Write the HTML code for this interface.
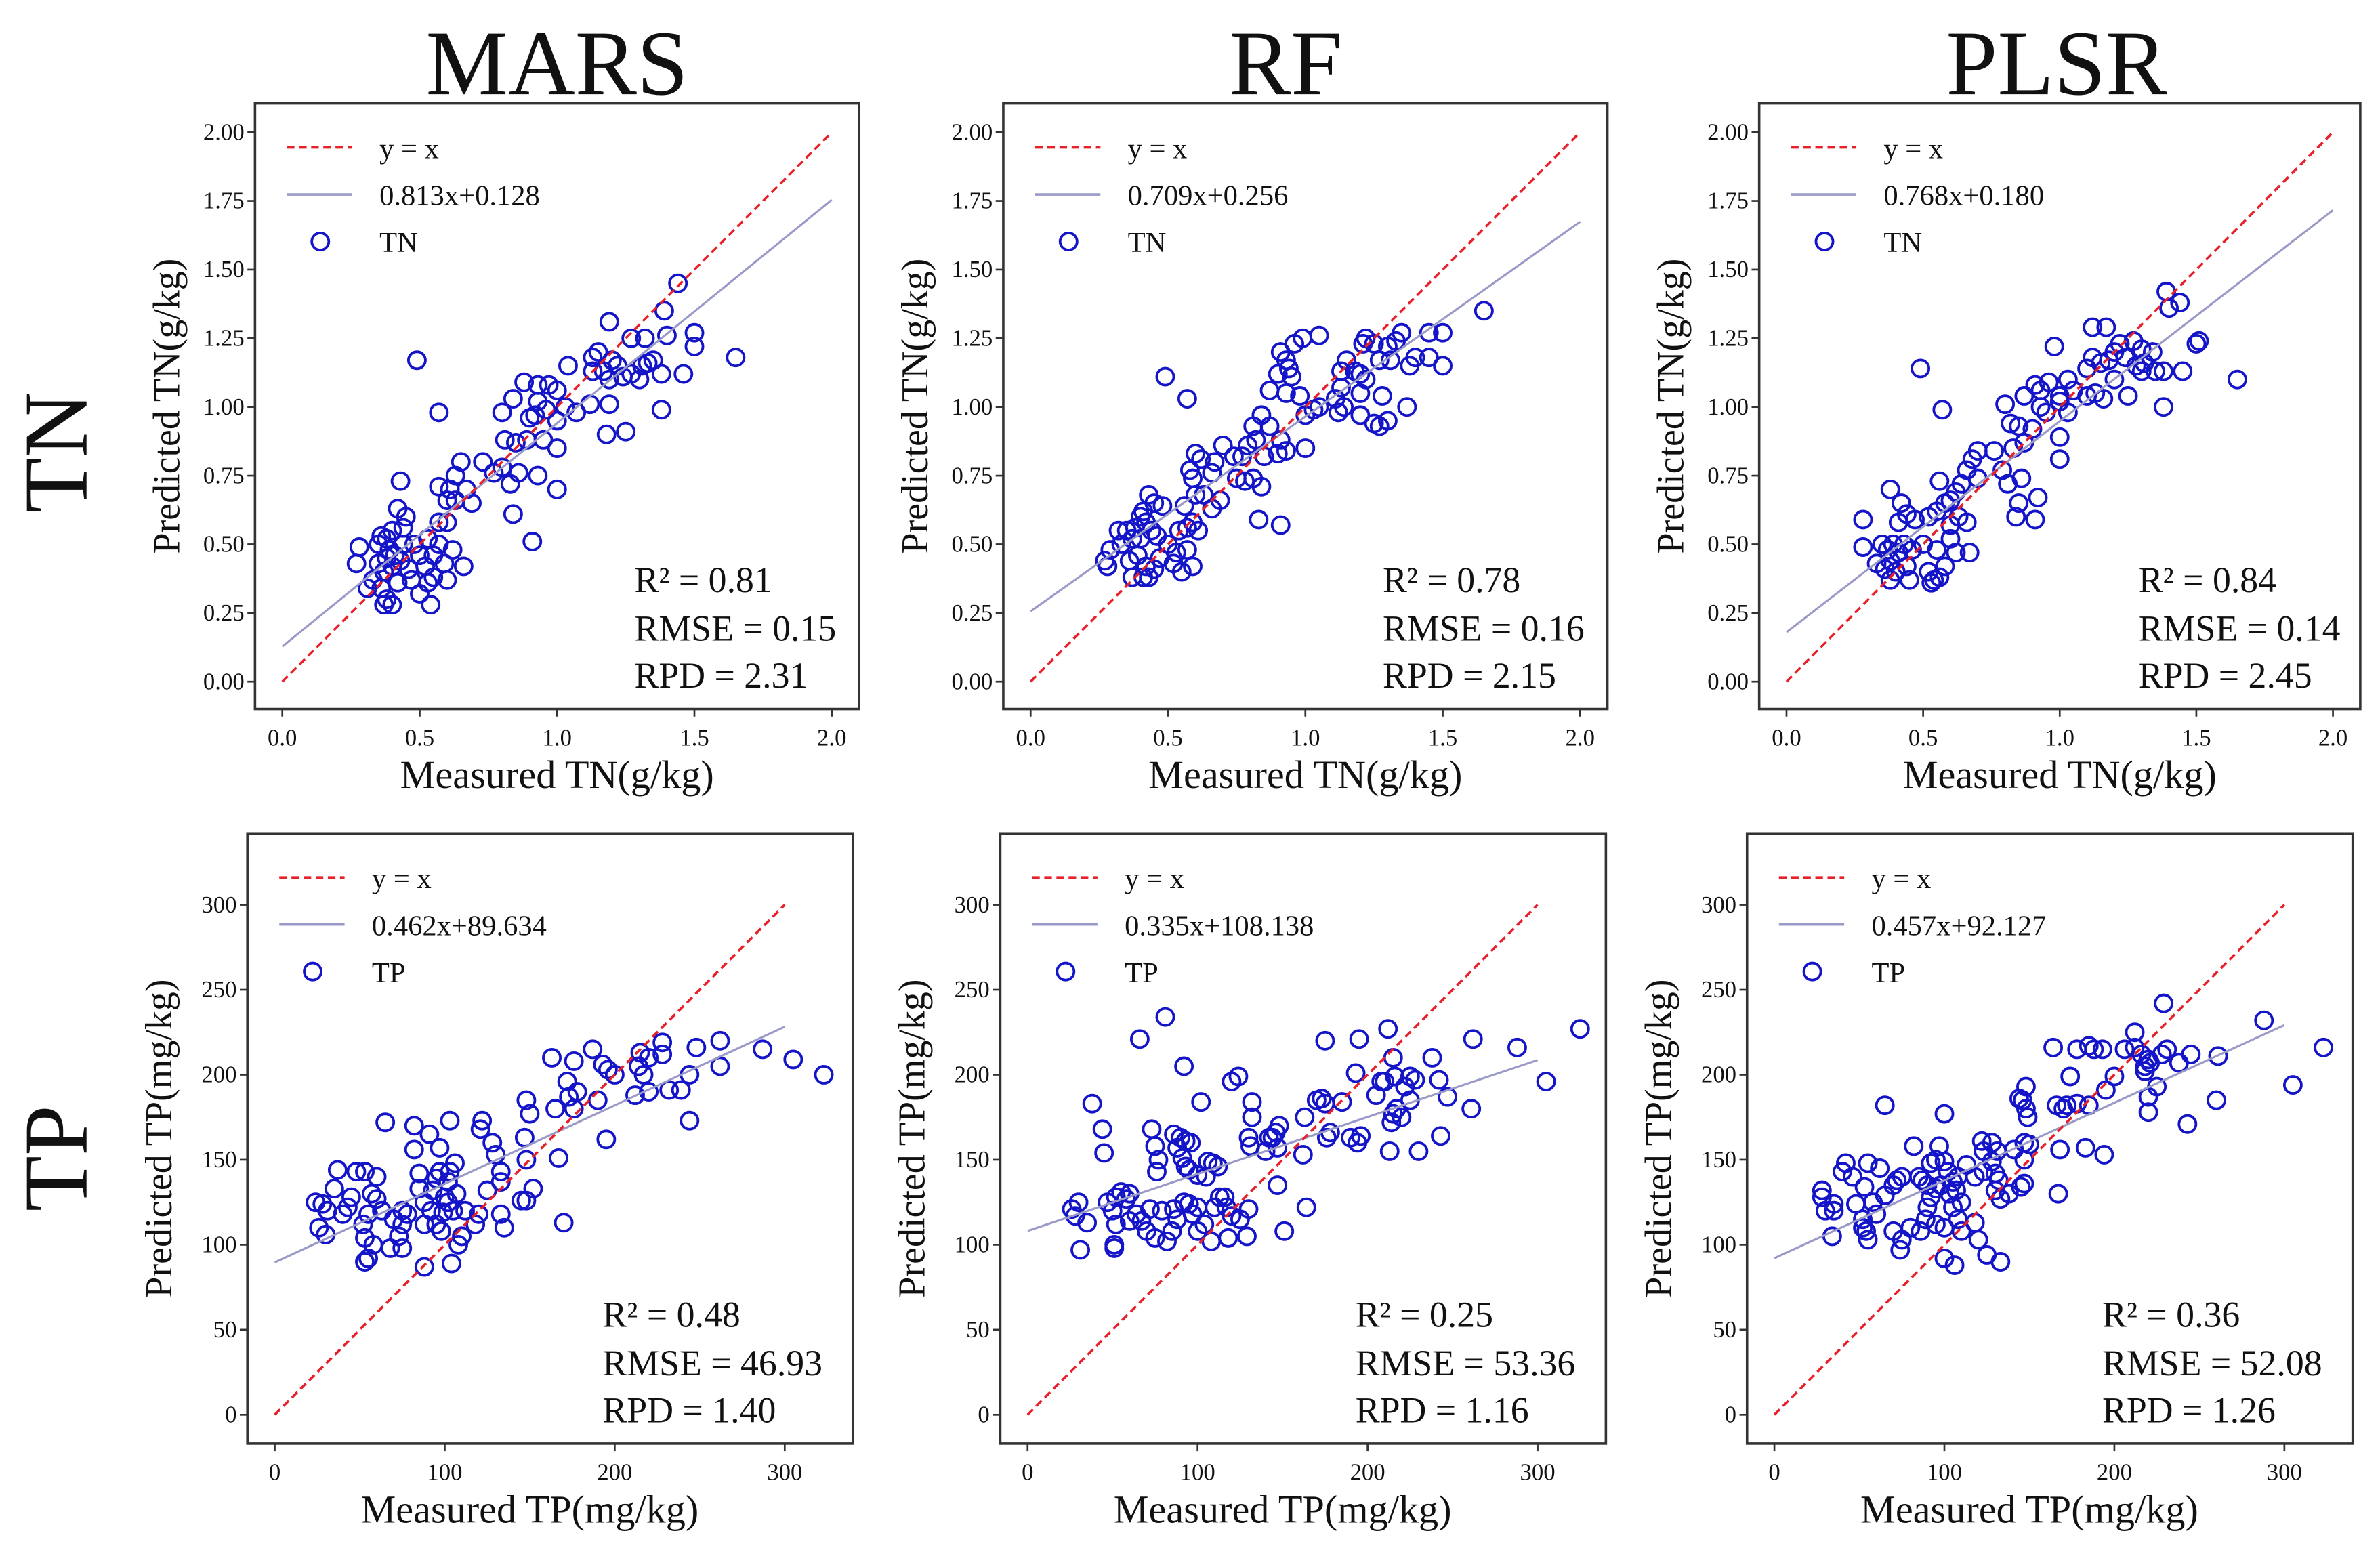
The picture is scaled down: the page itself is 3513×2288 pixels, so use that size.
<!DOCTYPE html>
<html><head><meta charset="utf-8"><style>
html,body{margin:0;padding:0;background:#fff}
svg{display:block}
text{font-family:"Liberation Serif",serif;fill:#111}
</style></head><body>
<svg id="chart" xmlns="http://www.w3.org/2000/svg" width="3513" height="2288" viewBox="0 0 1568 1021">
<text x="367" y="62" font-size="61" text-anchor="middle">MARS</text>
<text x="847" y="62" font-size="61" text-anchor="middle">RF</text>
<text x="1355" y="62" font-size="61" text-anchor="middle">PLSR</text>
<text transform="translate(57,298) rotate(-90)" font-size="60" text-anchor="middle">TN</text>
<text transform="translate(57,763) rotate(-90)" font-size="60" text-anchor="middle">TP</text>
</svg>
<script>
// ---- data ----
const tnTicks = [0, 0.25, 0.5, 0.75, 1.0, 1.25, 1.5, 1.75, 2.0];
const tnTickLabels = ["0.00","0.25","0.50","0.75","1.00","1.25","1.50","1.75","2.00"];
const tnXTicks = [0, 0.5, 1.0, 1.5, 2.0];
const tnXTickLabels = ["0.0","0.5","1.0","1.5","2.0"];
const tpTicks = [0, 50, 100, 150, 200, 250, 300];
const tpTickLabels = ["0","50","100","150","200","250","300"];
const tpXTicks = [0, 100, 200, 300];
const tpXTickLabels = ["0","100","200","300"];

const marsTN = [[1.44,1.45],[1.39,1.35],[1.19,1.31],[1.27,1.25],[1.32,1.25],[1.4,1.26],[1.5,1.27],[1.5,1.22],[1.65,1.18],[1.46,1.12],[1.38,1.12],[1.38,0.99],[1.25,0.91],[1.18,0.9],[1.19,1.01],[1.12,1.01],[1.15,1.2],[1.13,1.18],[1.2,1.17],[1.22,1.15],[1.17,1.13],[1.13,1.13],[1.24,1.11],[1.27,1.12],[1.3,1.1],[1.33,1.16],[1.35,1.17],[1.31,1.15],[1.19,1.1],[1.04,1.15],[1.07,0.98],[1.03,1.0],[1.0,1.06],[0.97,1.08],[0.93,1.08],[0.88,1.09],[0.93,1.02],[0.96,0.99],[0.92,0.97],[0.9,0.96],[0.95,0.88],[0.89,0.88],[0.85,0.87],[0.81,0.88],[0.8,0.98],[0.84,1.03],[1.0,0.95],[1.0,0.85],[0.93,0.75],[1.0,0.7],[0.86,0.76],[0.83,0.72],[0.84,0.61],[0.91,0.51],[0.77,0.76],[0.73,0.8],[0.8,0.78],[0.65,0.8],[0.63,0.75],[0.69,0.65],[0.67,0.7],[0.61,0.7],[0.6,0.66],[0.57,0.71],[0.6,0.58],[0.57,0.58],[0.63,0.66],[0.57,0.98],[0.49,1.17],[0.43,0.73],[0.42,0.63],[0.45,0.6],[0.44,0.56],[0.4,0.55],[0.38,0.52],[0.36,0.53],[0.39,0.48],[0.41,0.46],[0.43,0.44],[0.38,0.45],[0.35,0.43],[0.37,0.4],[0.4,0.42],[0.33,0.37],[0.36,0.34],[0.38,0.3],[0.4,0.28],[0.37,0.28],[0.42,0.36],[0.47,0.37],[0.5,0.32],[0.54,0.28],[0.53,0.36],[0.55,0.38],[0.6,0.37],[0.59,0.43],[0.62,0.48],[0.66,0.42],[0.55,0.46],[0.5,0.46],[0.53,0.52],[0.48,0.5],[0.28,0.49],[0.27,0.43],[0.31,0.34],[0.46,0.41],[0.44,0.5],[0.57,0.5],[0.52,0.42],[0.35,0.5]];
const rfTN = [[1.65,1.35],[1.5,1.27],[1.45,1.27],[1.35,1.27],[1.33,1.24],[1.5,1.15],[1.45,1.18],[1.4,1.18],[1.38,1.15],[1.37,1.0],[1.3,1.22],[1.31,1.17],[1.27,1.17],[1.25,1.23],[1.22,1.25],[1.21,1.23],[1.2,1.12],[1.15,1.17],[1.13,1.13],[1.18,1.13],[1.22,1.1],[1.2,1.05],[1.13,1.07],[1.11,1.03],[1.14,1.0],[1.12,0.98],[1.2,0.97],[1.28,1.04],[1.25,0.94],[1.3,0.95],[1.27,0.93],[1.05,1.26],[0.99,1.25],[0.96,1.23],[0.91,1.2],[0.93,1.17],[0.94,1.14],[0.95,1.11],[0.9,1.12],[0.87,1.06],[0.93,1.05],[0.98,1.04],[1.05,1.0],[1.03,0.99],[1.0,0.97],[0.87,0.93],[0.84,0.97],[0.81,0.93],[0.82,0.88],[0.79,0.86],[0.85,0.82],[0.9,0.83],[0.93,0.84],[0.91,0.88],[0.77,0.82],[1.0,0.85],[0.75,0.74],[0.78,0.73],[0.81,0.74],[0.84,0.71],[0.83,0.59],[0.91,0.57],[0.7,0.86],[0.74,0.82],[0.67,0.8],[0.62,0.81],[0.6,0.83],[0.59,0.74],[0.58,0.77],[0.63,0.68],[0.66,0.76],[0.69,0.66],[0.66,0.63],[0.6,0.68],[0.56,0.64],[0.59,0.58],[0.61,0.55],[0.57,0.56],[0.49,1.11],[0.57,1.03],[0.43,0.68],[0.45,0.65],[0.48,0.64],[0.41,0.62],[0.4,0.6],[0.42,0.58],[0.38,0.56],[0.44,0.55],[0.46,0.53],[0.35,0.55],[0.32,0.55],[0.37,0.52],[0.4,0.52],[0.33,0.5],[0.29,0.48],[0.28,0.42],[0.27,0.44],[0.36,0.44],[0.39,0.46],[0.42,0.42],[0.45,0.41],[0.43,0.38],[0.37,0.38],[0.41,0.38],[0.47,0.45],[0.52,0.43],[0.55,0.4],[0.53,0.47],[0.5,0.5],[0.57,0.48],[0.59,0.42],[0.54,0.55]];
const plsrTN = [[1.39,1.42],[1.44,1.38],[1.4,1.36],[1.12,1.29],[1.17,1.29],[1.51,1.24],[1.5,1.23],[1.65,1.1],[1.45,1.13],[1.38,1.13],[1.38,1.0],[1.27,1.24],[1.3,1.21],[1.34,1.2],[1.31,1.16],[1.3,1.13],[1.35,1.13],[1.28,1.15],[1.24,1.18],[1.22,1.23],[1.2,1.2],[1.18,1.17],[1.15,1.16],[1.12,1.18],[1.1,1.14],[1.2,1.1],[1.13,1.05],[1.16,1.03],[1.25,1.04],[1.1,1.04],[1.05,1.06],[1.03,1.1],[1.0,1.04],[0.98,1.22],[0.96,1.09],[0.93,1.06],[0.91,1.08],[0.87,1.04],[0.93,1.0],[0.95,0.98],[1.0,1.02],[1.03,0.98],[0.8,1.01],[0.82,0.94],[0.85,0.93],[0.9,0.92],[0.87,0.87],[0.83,0.85],[1.0,0.89],[1.0,0.81],[0.76,0.84],[0.79,0.77],[0.86,0.74],[0.81,0.72],[0.85,0.65],[0.92,0.67],[0.84,0.6],[0.91,0.59],[0.7,0.84],[0.68,0.81],[0.66,0.77],[0.7,0.74],[0.64,0.72],[0.62,0.69],[0.6,0.66],[0.56,0.73],[0.58,0.65],[0.55,0.62],[0.52,0.6],[0.63,0.6],[0.66,0.58],[0.6,0.57],[0.49,1.14],[0.57,0.99],[0.38,0.7],[0.42,0.65],[0.44,0.61],[0.47,0.59],[0.41,0.58],[0.28,0.59],[0.28,0.49],[0.35,0.5],[0.37,0.48],[0.39,0.5],[0.41,0.47],[0.38,0.44],[0.33,0.43],[0.36,0.41],[0.4,0.4],[0.44,0.42],[0.45,0.37],[0.38,0.37],[0.52,0.4],[0.54,0.37],[0.53,0.36],[0.56,0.38],[0.58,0.42],[0.55,0.48],[0.5,0.5],[0.6,0.52],[0.67,0.47],[0.62,0.47],[0.46,0.48],[0.43,0.5]];
const marsTP = [[287,215],[305,209],[323,200],[262,220],[262,205],[248,216],[244,200],[244,173],[228,219],[228,212],[220,210],[215,213],[214,205],[217,200],[220,190],[232,191],[239,191],[212,188],[200,200],[196,203],[193,206],[187,215],[190,185],[176,208],[172,196],[178,190],[173,187],[176,180],[165,180],[163,210],[167,151],[195,162],[170,113],[148,185],[150,177],[147,163],[148,150],[152,133],[145,126],[148,126],[133,143],[133,137],[130,153],[128,160],[122,173],[121,168],[125,132],[120,118],[118,112],[112,120],[108,100],[110,105],[104,89],[88,87],[103,143],[102,137],[107,130],[105,120],[100,128],[97,143],[95,139],[93,132],[91,165],[97,157],[103,173],[106,148],[82,170],[82,156],[85,142],[85,133],[88,125],[92,120],[95,112],[98,108],[99,119],[102,125],[65,172],[75,120],[75,112],[73,105],[78,118],[70,115],[68,98],[75,98],[60,140],[57,130],[60,127],[53,143],[48,143],[45,128],[52,112],[55,118],[53,104],[53,90],[55,92],[58,100],[37,144],[35,133],[31,120],[28,124],[26,110],[30,106],[24,125],[40,118],[43,122],[63,120],[135,110],[133,118],[88,112]];
const rfTP = [[325,227],[288,216],[305,196],[262,221],[261,180],[242,197],[247,187],[243,164],[238,210],[228,197],[225,199],[222,193],[225,185],[220,175],[217,180],[215,177],[214,172],[216,199],[215,210],[210,196],[208,196],[212,227],[205,188],[195,221],[193,201],[185,184],[194,160],[196,164],[190,163],[213,155],[230,155],[175,220],[173,186],[170,185],[175,183],[178,166],[176,163],[163,175],[162,153],[164,122],[148,170],[146,166],[144,163],[142,163],[147,157],[140,155],[147,135],[151,108],[132,184],[132,175],[130,163],[131,158],[124,199],[120,196],[102,184],[92,205],[81,234],[66,221],[38,183],[44,168],[45,154],[73,168],[75,158],[77,150],[86,165],[90,163],[93,161],[96,160],[88,157],[91,151],[93,146],[95,144],[100,141],[106,149],[109,148],[112,146],[105,140],[113,128],[110,122],[116,128],[120,117],[125,115],[129,105],[118,104],[108,102],[104,112],[100,108],[97,118],[95,124],[92,125],[88,115],[85,108],[82,102],[75,104],[70,108],[67,114],[64,118],[60,130],[58,127],[55,131],[52,128],[47,125],[50,120],[52,112],[51,100],[51,98],[35,113],[30,125],[28,117],[26,121],[31,97],[60,114],[72,121],[79,120],[86,121],[100,122],[130,121],[117,122],[76,143]];
const plsrTP = [[323,216],[305,194],[288,232],[261,211],[260,185],[245,212],[243,171],[238,207],[231,215],[228,212],[229,242],[221,207],[220,209],[218,205],[216,212],[212,216],[212,225],[218,202],[220,187],[220,178],[225,193],[206,215],[200,199],[195,191],[193,215],[188,215],[185,217],[178,215],[164,216],[174,199],[166,182],[170,180],[178,183],[185,182],[183,157],[194,153],[172,182],[149,175],[148,180],[146,185],[148,193],[144,186],[147,160],[150,159],[141,156],[147,150],[138,130],[147,136],[145,134],[167,130],[168,156],[122,161],[128,160],[123,155],[128,149],[131,155],[130,142],[132,138],[133,127],[130,132],[123,143],[118,140],[113,147],[108,140],[107,132],[105,137],[102,143],[100,149],[97,158],[95,150],[92,148],[100,177],[82,158],[65,182],[105,122],[110,125],[103,130],[98,135],[95,133],[92,128],[90,135],[87,138],[85,140],[89,115],[90,122],[95,112],[100,110],[108,115],[110,108],[118,113],[120,103],[125,94],[133,90],[100,92],[106,88],[86,108],[80,110],[75,103],[74,97],[70,108],[52,110],[54,108],[55,103],[52,115],[60,118],[48,124],[40,143],[46,140],[53,134],[58,125],[65,129],[70,135],[72,138],[75,140],[28,128],[30,120],[35,120],[35,124],[34,105],[28,132],[42,148],[55,148],[62,145]];

const slopes = [0.813, 0.709, 0.768, 0.462, 0.335, 0.457];
const intercepts = [0.128, 0.256, 0.180, 89.634, 108.138, 92.127];
const eqLabels = ["0.813x+0.128","0.709x+0.256","0.768x+0.180","0.462x+89.634","0.335x+108.138","0.457x+92.127"];
const r2Labels = ["0.81","0.78","0.84","0.48","0.25","0.36"];
const rmseLabels = ["0.15","0.16","0.14","46.93","53.36","52.08"];
const rpdLabels = ["2.31","2.15","2.45","1.40","1.16","1.26"];

// ---- drawing ----
const svg = document.getElementById('chart');
const NS = 'http://www.w3.org/2000/svg';
function mk(tag, attrs, parent){
  const e = document.createElementNS(NS, tag);
  for (const k in attrs) e.setAttribute(k, attrs[k]);
  (parent||svg).appendChild(e);
  return e;
}
const panels = [
  {id:'mars-tn', x0:186, y0:449, top:68, bottom:467, sx:181, sy:181, max:2, rm:18, data:marsTN, yt:tnTicks, ytl:tnTickLabels, xt:tnXTicks, xtl:tnXTickLabels, var:'TN', xl:'Measured TN(g/kg)', yl:'Predicted TN(g/kg)', sOff:250},
  {id:'rf-tn', x0:679, y0:449, top:68, bottom:467, sx:181, sy:181, max:2, rm:18, data:rfTN, yt:tnTicks, ytl:tnTickLabels, xt:tnXTicks, xtl:tnXTickLabels, var:'TN', xl:'Measured TN(g/kg)', yl:'Predicted TN(g/kg)', sOff:250},
  {id:'plsr-tn', x0:1177, y0:449, top:68, bottom:467, sx:180, sy:181, max:2, rm:18, data:plsrTN, yt:tnTicks, ytl:tnTickLabels, xt:tnXTicks, xtl:tnXTickLabels, var:'TN', xl:'Measured TN(g/kg)', yl:'Predicted TN(g/kg)', sOff:250},
  {id:'mars-tp', x0:181, y0:932, top:549, bottom:951, sx:1.12, sy:1.12, max:300, rm:45, data:marsTP, yt:tpTicks, ytl:tpTickLabels, xt:tpXTicks, xtl:tpXTickLabels, var:'TP', xl:'Measured TP(mg/kg)', yl:'Predicted TP(mg/kg)', sOff:234},
  {id:'rf-tp', x0:677, y0:932, top:549, bottom:951, sx:1.12, sy:1.12, max:300, rm:45, data:rfTP, yt:tpTicks, ytl:tpTickLabels, xt:tpXTicks, xtl:tpXTickLabels, var:'TP', xl:'Measured TP(mg/kg)', yl:'Predicted TP(mg/kg)', sOff:234},
  {id:'plsr-tp', x0:1169, y0:932, top:549, bottom:951, sx:1.12, sy:1.12, max:300, rm:45, data:plsrTP, yt:tpTicks, ytl:tpTickLabels, xt:tpXTicks, xtl:tpXTickLabels, var:'TP', xl:'Measured TP(mg/kg)', yl:'Predicted TP(mg/kg)', sOff:234}
];
panels.forEach((p, i) => {
  const X = v => p.x0 + v * p.sx;
  const Y = v => p.y0 - v * p.sy;
  const left = p.x0 - 18, right = X(p.max) + p.rm;
  const g = mk('g', {});
  
  
  const fr = mk('rect', {x:left, y:p.top, width:right-left, height:p.bottom-p.top, fill:'none', stroke:'#333', 'stroke-width':1.6}, g);
  
  
  p.yt.forEach((t, k) => {
    mk('line', {x1:left-5, x2:left, y1:Y(t), y2:Y(t), stroke:'#333', 'stroke-width':1.2}, g);
    const tl = mk('text', {x:left-7, y:Y(t)+5, 'font-size':15.5, 'text-anchor':'end'}, g);
    tl.textContent = p.ytl[k];
    
    
  });
  p.xt.forEach((t, k) => {
    mk('line', {x1:X(t), x2:X(t), y1:p.bottom, y2:p.bottom+5, stroke:'#333', 'stroke-width':1.2}, g);
    const tl = mk('text', {x:X(t), y:p.bottom+24, 'font-size':15.5, 'text-anchor':'middle'}, g);
    tl.textContent = p.xtl[k];
    
    
  });
  const xt = mk('text', {x:(left+X(p.max)+18)/2, y:p.bottom+52, 'font-size':26, 'text-anchor':'middle'}, g);
  xt.textContent = p.xl;
  
  
  const yt = mk('text', {transform:'translate(' + (left-50) + ',' + ((p.top+p.bottom)/2) + ') rotate(-90)', 'font-size':25, 'text-anchor':'middle'}, g);
  yt.textContent = p.yl;
  
  
  p.data.forEach(d => {
    const c = mk('circle', {cx:X(d[0]), cy:Y(d[1]), r:5.6, fill:'none', stroke:'#1414c8', 'stroke-width':1.7}, g);
    
    
  });
  const rl = mk('line', {x1:X(0), y1:Y(intercepts[i]), x2:X(p.max), y2:Y(slopes[i]*p.max + intercepts[i]), stroke:'#9a9ac8', 'stroke-width':1.4}, g);
  
  
  const il = mk('line', {x1:X(0), y1:Y(0), x2:X(p.max), y2:Y(p.max), stroke:'#e8202a', 'stroke-width':1.6, 'stroke-dasharray':'5,3'}, g);
  
  
  const ly = p.top + 29;
  const lg = mk('g', {}, g);
  
  
  mk('line', {x1:left+21, x2:left+64, y1:ly, y2:ly, stroke:'#e8202a', 'stroke-width':1.6, 'stroke-dasharray':'5,3'}, lg);
  mk('text', {x:left+82, y:ly+7, 'font-size':19}, lg).textContent = 'y = x';
  mk('line', {x1:left+21, x2:left+64, y1:ly+31, y2:ly+31, stroke:'#9a9ac8', 'stroke-width':1.6}, lg);
  mk('text', {x:left+82, y:ly+38, 'font-size':19}, lg).textContent = eqLabels[i];
  mk('circle', {cx:left+43, cy:ly+62, r:5.6, fill:'none', stroke:'#1414c8', 'stroke-width':1.7}, lg);
  mk('text', {x:left+82, y:ly+69, 'font-size':19}, lg).textContent = p.var;
  const sx = left + p.sOff;
  const sb = p.bottom - 77;
  const st = mk('g', {}, g);
  
  
  mk('text', {x:sx, y:sb, 'font-size':24}, st).textContent = 'R² = ' + r2Labels[i];
  mk('text', {x:sx, y:sb+32, 'font-size':24}, st).textContent = 'RMSE = ' + rmseLabels[i];
  mk('text', {x:sx, y:sb+63, 'font-size':24}, st).textContent = 'RPD = ' + rpdLabels[i];
});
</script>
</body></html>
